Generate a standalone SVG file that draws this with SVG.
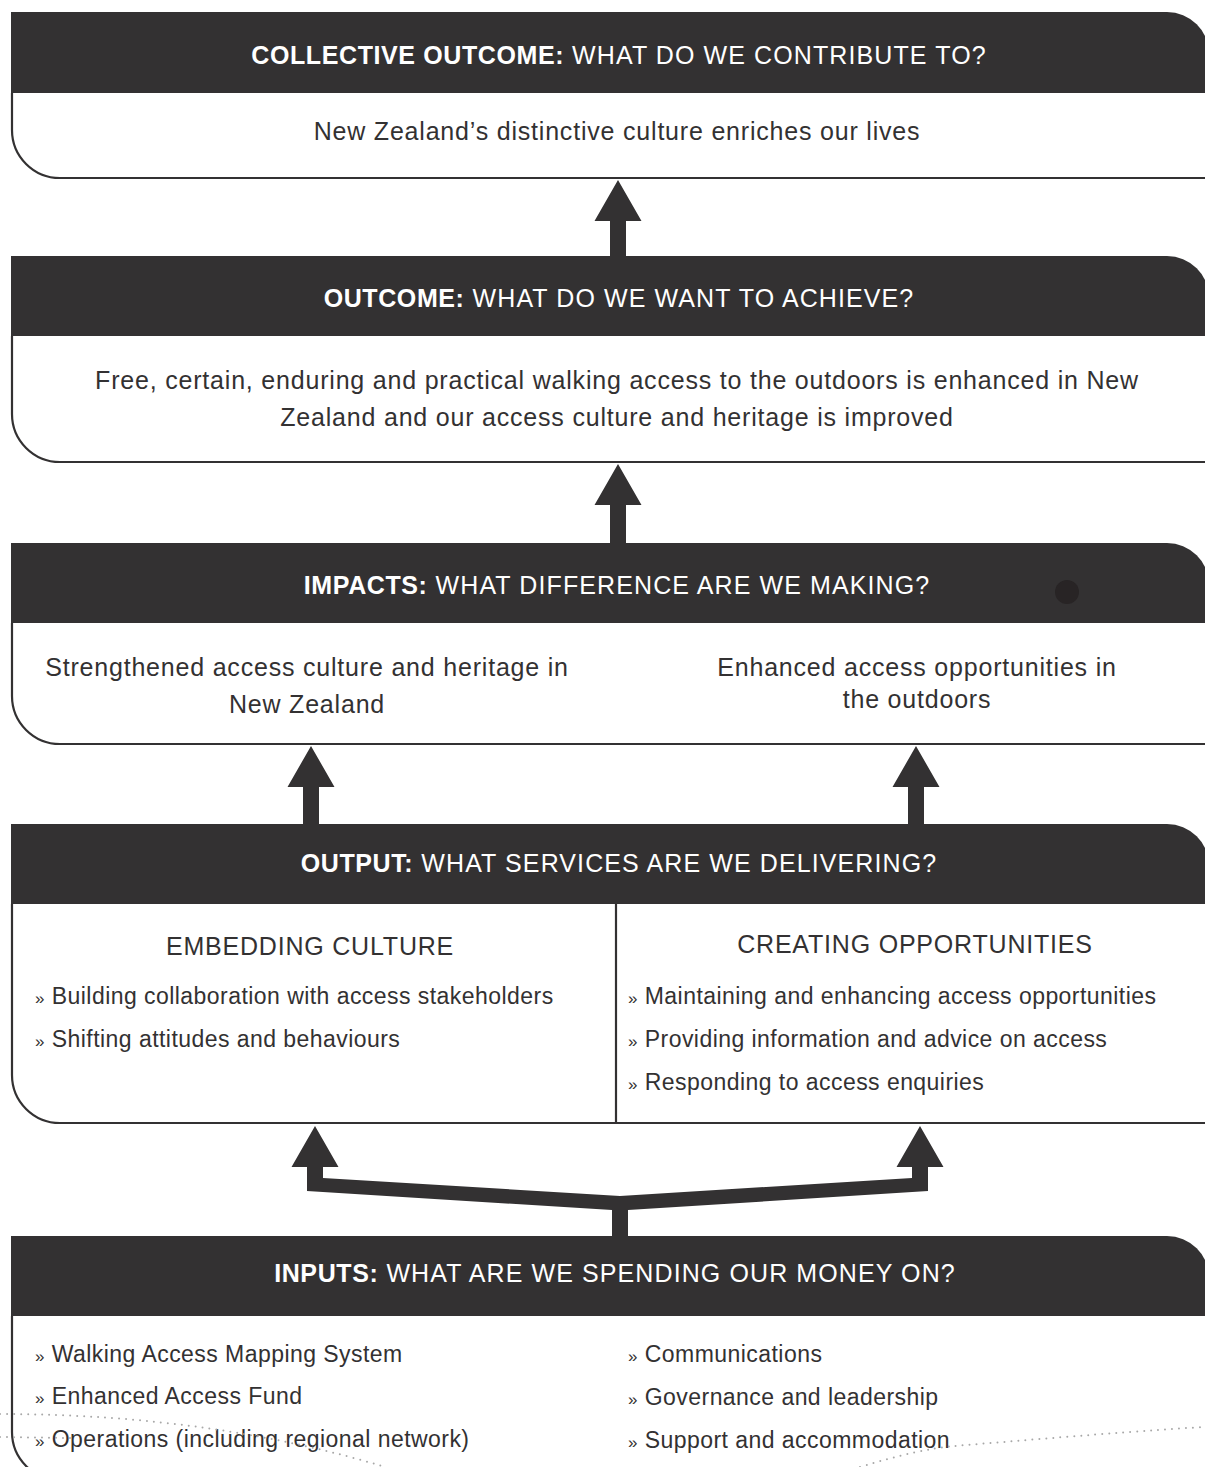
<svg xmlns="http://www.w3.org/2000/svg" width="1205" height="1467" viewBox="0 0 1205 1467">
<style>
.hdr{fill:#333132;}
.body{fill:#fff;stroke:#333132;stroke-width:2.2;}
.ht{font-family:"Liberation Sans",Arial,Helvetica,sans-serif;font-size:25px;letter-spacing:1.1px;fill:#fff;text-anchor:middle;}
.ht .b{font-weight:bold;letter-spacing:0.6px;}
.bt{font-family:"Liberation Sans",Arial,Helvetica,sans-serif;font-size:25px;letter-spacing:0.8px;fill:#333132;text-anchor:middle;}
.li{font-family:"Liberation Sans",Arial,Helvetica,sans-serif;font-size:23px;letter-spacing:0.45px;fill:#333132;}
.bu{font-size:17px;}
.arrow{fill:#333132;}
.dots{fill:none;stroke:#a8a8a8;stroke-width:2;stroke-dasharray:0 7;stroke-linecap:round;}
</style>
<rect width="1205" height="1467" fill="#fff"/>

<g id="connectors">
<polygon class="arrow" points="618,180 641.5,221 626,221 626,257 610,257 610,221 594.5,221"/>
<polygon class="arrow" points="618,464 641.5,505 626,505 626,544 610,544 610,505 594.5,505"/>
<polygon class="arrow" points="311,746 334.5,787 319,787 319,824 303,824 303,787 287.5,787"/>
<polygon class="arrow" points="916,746 939.5,787 924,787 924,824 908,824 908,787 892.5,787"/>
<polygon class="arrow" points="612,1237 612,1210 307,1191 307,1167 291.5,1167 315,1126 338.5,1167 323,1167 323,1178 620,1196 912,1178 912,1167 896.5,1167 920,1126 943.5,1167 928,1167 928,1191 628,1210 628,1237"/>
</g>

<g id="collective-outcome">
<path class="body" d="M12,93 V130 A48,48 0 0 0 60,178 H1210"/>
<path class="hdr" d="M11,12 H1167 A42,42 0 0 1 1209,54 V93 H11 Z"/>
<text class="ht" x="619" y="64"><tspan class="b">COLLECTIVE OUTCOME:</tspan> WHAT DO WE CONTRIBUTE TO?</text>
<text class="bt" x="617" y="140">New Zealand’s distinctive culture enriches our lives</text>
</g>

<g id="outcome">
<path class="body" d="M12,336 V414 A48,48 0 0 0 60,462 H1210"/>
<path class="hdr" d="M11,256 H1167 A42,42 0 0 1 1209,298 V336 H11 Z"/>
<text class="ht" x="619" y="307"><tspan class="b">OUTCOME:</tspan> WHAT DO WE WANT TO ACHIEVE?</text>
<text class="bt" x="617" y="389">Free, certain, enduring and practical walking access to the outdoors is enhanced in New</text>
<text class="bt" x="617" y="426">Zealand and our access culture and heritage is improved</text>
</g>

<g id="impacts">
<path class="body" d="M12,623 V696 A48,48 0 0 0 60,744 H1210"/>
<path class="hdr" d="M11,543 H1167 A42,42 0 0 1 1209,585 V623 H11 Z"/>
<circle cx="1067" cy="592" r="12" fill="#282425"/>
<text class="ht" x="617" y="594"><tspan class="b">IMPACTS:</tspan> WHAT DIFFERENCE ARE WE MAKING?</text>
<text class="bt" x="307" y="676">Strengthened access culture and heritage in</text>
<text class="bt" x="307" y="713">New Zealand</text>
<text class="bt" x="917" y="676">Enhanced access opportunities in</text>
<text class="bt" x="917" y="708">the outdoors</text>
</g>

<g id="output">
<path class="body" d="M12,904 V1075 A48,48 0 0 0 60,1123 H1210"/>
<line x1="616" y1="904" x2="616" y2="1123" stroke="#333132" stroke-width="2.2"/>
<path class="hdr" d="M11,824 H1167 A42,42 0 0 1 1209,866 V904 H11 Z"/>
<text class="ht" x="619" y="872"><tspan class="b">OUTPUT:</tspan> WHAT SERVICES ARE WE DELIVERING?</text>
<text class="bt" x="310" y="955">EMBEDDING CULTURE</text>
<text class="bt" x="915" y="953">CREATING OPPORTUNITIES</text>
<text class="li" x="35" y="1004"><tspan class="bu">»</tspan> Building collaboration with access stakeholders</text>
<text class="li" x="35" y="1047"><tspan class="bu">»</tspan> Shifting attitudes and behaviours</text>
<text class="li" x="628" y="1004"><tspan class="bu">»</tspan> Maintaining and enhancing access opportunities</text>
<text class="li" x="628" y="1047"><tspan class="bu">»</tspan> Providing information and advice on access</text>
<text class="li" x="628" y="1090"><tspan class="bu">»</tspan> Responding to access enquiries</text>
</g>

<g id="inputs">
<path class="body" d="M12,1316 V1432 A48,48 0 0 0 60,1480 H1210"/>
<path class="hdr" d="M11,1236 H1167 A42,42 0 0 1 1209,1278 V1316 H11 Z"/>
<text class="ht" x="615" y="1282"><tspan class="b">INPUTS:</tspan> WHAT ARE WE SPENDING OUR MONEY ON?</text>
<text class="li" x="35" y="1362"><tspan class="bu">»</tspan> Walking Access Mapping System</text>
<text class="li" x="35" y="1404"><tspan class="bu">»</tspan> Enhanced Access Fund</text>
<text class="li" x="35" y="1447"><tspan class="bu">»</tspan> Operations (including regional network)</text>
<text class="li" x="628" y="1362"><tspan class="bu">»</tspan> Communications</text>
<text class="li" x="628" y="1405"><tspan class="bu">»</tspan> Governance and leadership</text>
<text class="li" x="628" y="1448"><tspan class="bu">»</tspan> Support and accommodation</text>
</g>

<g id="dotted-lines">
<path class="dots" d="M0,1414 C150,1414 280,1435 385,1467"/>
<path class="dots" d="M0,1437 L70,1438"/>
<path class="dots" d="M860,1467 C900,1455 930,1448 955,1446 C1050,1438 1150,1430 1205,1427"/>
</g>
</svg>
